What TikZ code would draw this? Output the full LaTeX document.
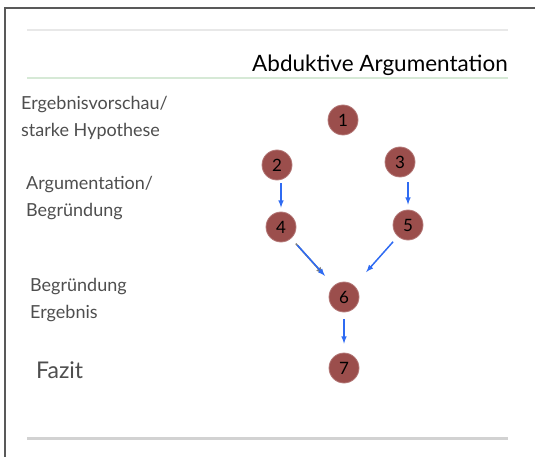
\documentclass[tikz,border=0pt]{standalone}
\usepackage{fontspec}
\setmainfont{Lato}
\usetikzlibrary{arrows,positioning}
\definecolor{stepred}{HTML}{9B4E4C}
\definecolor{flowblue}{HTML}{2F6BF2}
\definecolor{rowgray}{HTML}{4E4E4E}
\tikzset{%
	stage/.style    = {circle, fill=stepred, draw=stepred!75!white, line width=0.8pt, minimum size=30pt, inner sep=0pt, font=\fontsize{17}{17}\selectfont}, % numbered stage
	rowtext/.style  = {anchor=west, align=left, inner sep=0pt, text=rowgray, font=\fontsize{18}{27}\selectfont}, % row caption
	flow/.style     = {->, >=latex, flowblue, line width=1.5pt}, % connector
}
\begin{document}
\begin{tikzpicture}[x=1pt, y=-1pt, node distance = 62pt]
		\useasboundingbox (0,0) rectangle (535,457);
		% frame and rules
		\draw[gray!70!black, line width=2pt] (5,457) -- (5,8) -- (535,8);
		\draw[gray!18, line width=1.5pt] (27,30) -- (508,30);
		\draw[green!30!gray!25, line width=1.5pt] (27,78) -- (508,78);
		\draw[gray!35, line width=3pt] (27,438) -- (508,438);
		\node[anchor=base east, inner sep=0pt, font=\fontsize{22.5}{23}\selectfont] (title) at (508,72) {Abduktive Argumentation};
		% captions
		\node[rowtext] (hyp) at (21,118) {Ergebnisvorschau/\\starke Hypothese};
		\node[rowtext] (arg) at (26,198) {Argumentation/\\Begründung};
		\node[rowtext] (erg) at (30,300) {Begründung\\Ergebnis};
		\node[rowtext, font=\fontsize{23}{23}\selectfont] (fazit) at (36,370) {Fazit};
		% stages
		\node[stage] (s1) at (343,120) {1};
		\node[stage] (s2) at (277,165) {2};
		\node[stage] (s3) at (400,162) {3};
		\node[stage] (s4) at (281,227) {4};
		\node[stage] (s5) at (408,225) {5};
		\node[stage] (s6) at (344,297) {6};
		\node[stage, below of=s6, node distance = 71pt] (s7) {7};
		\draw[flow, shorten <=3pt, shorten >=4pt] (s4 |- s2.south) -- (s4.north);
		\draw[flow, shorten <=5pt, shorten >=5pt] (s5 |- s3.south) -- (s5.north);
		\draw[flow, shorten <=9pt, shorten >=13pt, preaction={draw=gray, line width=1.6pt, transform canvas={shift={(-1.5pt,1.5pt)}}}] (s4) -- (s6);
		\draw[flow, shorten <=7pt, shorten >=18pt] (s5) -- (s6);
		\draw[flow, shorten <=7pt, shorten >=9pt] (s6) -- (s7);
\end{tikzpicture}
\end{document}
